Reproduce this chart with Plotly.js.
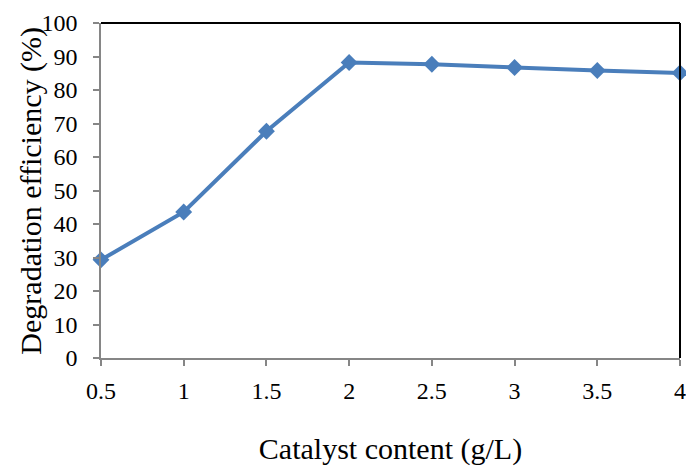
<!DOCTYPE html>
<html>
<head>
<meta charset="utf-8">
<script src="https://cdn.plot.ly/plotly-3.0.1.min.js"></script>
<style>html,body{margin:0;padding:0;background:#fff;}#chart{width:686px;height:466px;}</style>
</head>
<body>
<div id="chart"></div>
<script>
const catalystContent = [0.5, 1, 1.5, 2, 2.5, 3, 3.5, 4];
const degradationEfficiency = [29.3, 43.6, 67.7, 88.2, 87.7, 86.7, 85.8, 85.1];
const xTickVals = [0.5, 1, 1.5, 2, 2.5, 3, 3.5, 4];
const xTickText = ['0.5', '1', '1.5', '2', '2.5', '3', '3.5', '4'];
const xTitle = 'Catalyst content (g/L)';
const yTitle = 'Degradation efficiency (%)';

const font = 'Liberation Serif, Times New Roman, serif';
const trace = {
  x: catalystContent,
  y: degradationEfficiency,
  type: 'scatter',
  mode: 'lines+markers',
  line: {color: '#4a7ebb', width: 4},
  marker: {symbol: 'diamond', size: 13, color: '#4a7ebb'},
  cliponaxis: false,
  showlegend: false
};
const layout = {
  width: 686, height: 466,
  margin: {l: 101, r: 6, t: 23, b: 108},
  paper_bgcolor: '#fff', plot_bgcolor: '#fff',
  font: {family: font, size: 24, color: '#000'},
  xaxis: {
    range: [0.5, 4], tickvals: xTickVals, ticktext: xTickText,
    showgrid: false, zeroline: false, showline: true, linecolor: '#868686', linewidth: 2,
    ticks: 'outside', ticklen: 6, tickcolor: '#868686', tickwidth: 2,
    ticklabelstandoff: 4,
    tickfont: {family: font, size: 24},
    title: {text: xTitle, font: {family: font, size: 30}, standoff: 36}
  },
  yaxis: {
    range: [0, 100], dtick: 10,
    showgrid: false, zeroline: false, showline: true, linecolor: '#868686', linewidth: 2,
    ticks: 'outside', ticklen: 6, tickcolor: '#868686', tickwidth: 2,
    ticksuffix: '\u00a0\u2009',
    tickfont: {family: font, size: 24}
  },
  annotations: [{
    text: yTitle, textangle: -90, showarrow: false,
    xref: 'paper', yref: 'paper', x: -0.1224, y: 0.5, xanchor: 'center', yanchor: 'middle',
    font: {family: font, size: 30, color: '#000'}
  }],
  shapes: [
    {type: 'line', xref: 'paper', yref: 'paper', x0: 0, x1: 1, y0: 1, y1: 1, line: {color: '#000', width: 2}},
    {type: 'line', xref: 'paper', yref: 'paper', x0: 1, x1: 1, y0: 0, y1: 1, line: {color: '#000', width: 2}}
  ]
};
Plotly.newPlot('chart', [trace], layout, {displayModeBar: false, staticPlot: true});
</script>
</body>
</html>
